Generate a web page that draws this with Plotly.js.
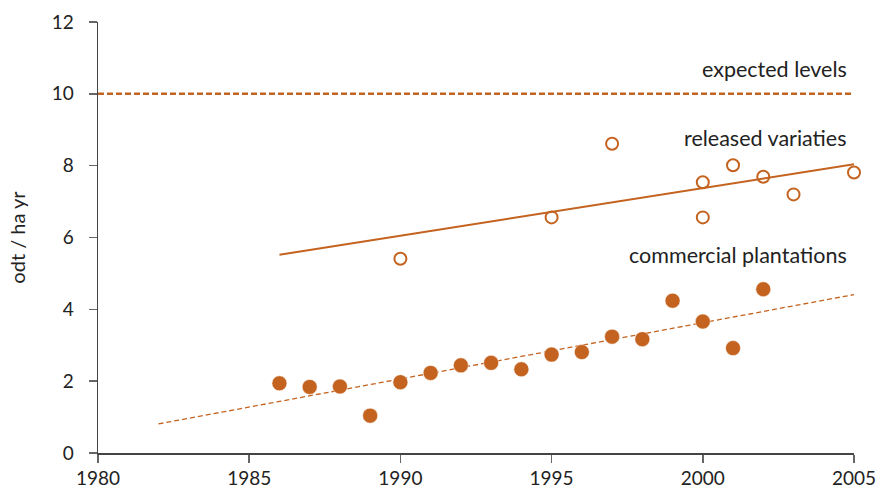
<!DOCTYPE html>
<html>
<head>
<meta charset="utf-8">
<script src="https://cdn.plot.ly/plotly-3.0.1.min.js"></script>
<style>html,body{margin:0;padding:0;background:#fff;}#chart{width:882px;height:495px;}</style>
</head>
<body>
<div id="chart"></div>
<script>
// Commercial plantations (filled markers)
var commercialYears = [1986, 1987, 1988, 1989, 1990, 1991, 1992, 1993, 1994, 1995, 1996, 1997, 1998, 1999, 2000, 2001, 2002];
var commercialValues = [1.94, 1.84, 1.85, 1.04, 1.97, 2.23, 2.44, 2.51, 2.33, 2.74, 2.81, 3.24, 3.17, 4.24, 3.66, 2.92, 4.56];
// Released varieties (open markers)
var releasedYears = [1990, 1995, 1997, 2000, 2000, 2001, 2002, 2003, 2005];
var releasedValues = [5.41, 6.56, 8.61, 7.54, 6.56, 8.01, 7.69, 7.20, 7.81];
// Trend lines (endpoints)
var releasedTrendYears = [1986, 2005];
var releasedTrendValues = [5.52, 8.04];
var commercialTrendYears = [1982, 2005];
var commercialTrendValues = [0.81, 4.41];
// Expected level
var expectedYears = [1980, 2005];
var expectedValues = [10, 10];
// Axis ticks
var xTicks = [1980, 1985, 1990, 1995, 2000, 2005];
var yTicks = [0, 2, 4, 6, 8, 10, 12];
var labels = ["expected levels", "released variaties", "commercial plantations"];

var orange = '#C4631F';
var font = 'Lato, "Open Sans", sans-serif';

var traces = [
  {x: expectedYears, y: expectedValues, mode: 'lines', line: {color: orange, width: 2.5, dash: '6px,3px'}, hoverinfo: 'skip'},
  {x: releasedTrendYears, y: releasedTrendValues, mode: 'lines', line: {color: orange, width: 2}, hoverinfo: 'skip'},
  {x: commercialTrendYears, y: commercialTrendValues, mode: 'lines', line: {color: orange, width: 1.3, dash: '5px,3px'}, hoverinfo: 'skip'},
  {x: releasedYears, y: releasedValues, mode: 'markers', cliponaxis: false,
   marker: {symbol: 'circle-open', size: 12, color: orange, line: {color: orange, width: 2}}},
  {x: commercialYears, y: commercialValues, mode: 'markers', cliponaxis: false,
   marker: {symbol: 'circle', size: 15, color: orange, line: {color: '#fff', width: 0.5}}}
];

var layout = {
  width: 882, height: 495,
  margin: {l: 98, r: 28, t: 22, b: 42},
  paper_bgcolor: '#fff', plot_bgcolor: '#fff',
  showlegend: false,
  font: {family: font, color: '#222', size: 19},
  xaxis: {
    range: [1980, 2005], tickvals: xTicks, ticktext: xTicks.map(String),
    showgrid: false, zeroline: false, showline: true, linecolor: '#444', linewidth: 1.5,
    ticks: 'outside', ticklen: 8, tickwidth: 1.5, tickcolor: '#666',
    tickfont: {family: font, size: 19, color: '#222'}
  },
  yaxis: {
    range: [0, 12], tickvals: yTicks, ticktext: yTicks.map(String),
    showgrid: false, zeroline: false, showline: true, linecolor: '#444', linewidth: 1.5,
    ticks: 'outside', ticklen: 8, tickwidth: 1.5, tickcolor: '#666',
    ticklabelstandoff: 11,
    tickfont: {family: font, size: 19, color: '#222'},
    title: {text: 'odt / ha yr', font: {family: font, size: 20, color: '#222'}, standoff: 20}
  },
  annotations: [
    {x: 2004.85, y: 10.68, xref: 'x', yref: 'y', text: labels[0], showarrow: false, xanchor: 'right', yanchor: 'middle', font: {family: font, size: 21.5, color: '#222'}},
    {x: 2004.85, y: 8.78, xref: 'x', yref: 'y', text: labels[1], showarrow: false, xanchor: 'right', yanchor: 'middle', font: {family: font, size: 21.5, color: '#222'}},
    {x: 2004.85, y: 5.52, xref: 'x', yref: 'y', text: labels[2], showarrow: false, xanchor: 'right', yanchor: 'middle', font: {family: font, size: 21.5, color: '#222'}}
  ]
};

Plotly.newPlot('chart', traces, layout, {displayModeBar: false, staticPlot: true});
</script>
</body>
</html>
